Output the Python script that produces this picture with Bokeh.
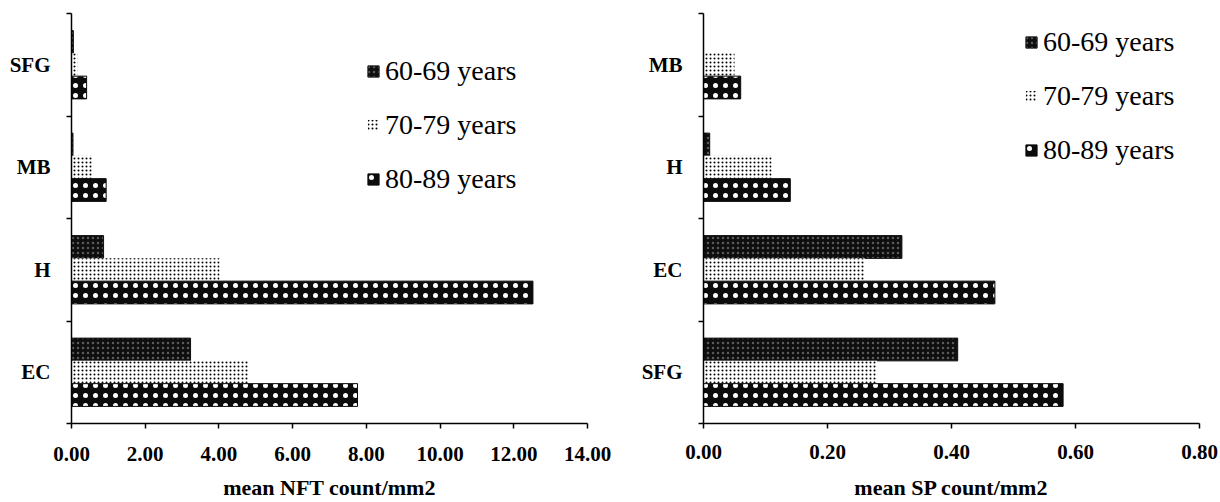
from bokeh.plotting import figure
from bokeh.models import (Range1d, FixedTicker, Legend, LegendItem, ColumnDataSource,
                          NumeralTickFormatter)
from bokeh.layouts import row
from bokeh.transform import dodge
from bokeh.embed import file_html
from bokeh.resources import INLINE

# ---- data ----
series = ["60-69 years", "70-79 years", "80-89 years"]

nft_regions = ["SFG", "MB", "H", "EC"]          # top to bottom
nft_60 = [0.05, 0.04, 0.87, 3.23]
nft_70 = [0.16, 0.56, 4.02, 4.81]
nft_80 = [0.41, 0.94, 12.52, 7.76]
nft_ticks = [0, 2, 4, 6, 8, 10, 12, 14]

sp_regions = ["MB", "H", "EC", "SFG"]           # top to bottom
sp_60 = [0.0, 0.01, 0.32, 0.41]
sp_70 = [0.05, 0.11, 0.26, 0.28]
sp_80 = [0.06, 0.14, 0.47, 0.58]
sp_ticks = [0, 0.2, 0.4, 0.6, 0.8]

FONT = "Liberation Serif"

styles = [
    dict(fill_color="#0e0e0e", line_color="#0e0e0e", hatch_pattern="dot",
         hatch_color="#5a5a5a", hatch_scale=5, hatch_weight=1),
    dict(fill_color="white", line_color=None, hatch_pattern="dot",
         hatch_color="#000000", hatch_scale=4, hatch_weight=3),
    dict(fill_color="#0c0c0c", line_color="#0c0c0c", hatch_pattern="dot",
         hatch_color="white", hatch_scale=10, hatch_weight=3.5),
]
offsets = [0.222, 0.0, -0.222]
bar_h = 0.222


def make(regions, vals, ticks, xlabel, width, height, bl, bt, br, bb, leg_xy,
         lab_standoff, title_standoff):
    n = len(regions)
    p = figure(width=width, height=height, output_backend="svg", toolbar_location=None,
               x_range=Range1d(ticks[0], ticks[-1]), y_range=Range1d(-0.5, n - 0.5),
               min_border_left=bl, min_border_top=bt, min_border_right=br,
               min_border_bottom=bb)
    p.outline_line_color = None
    p.grid.visible = False
    ypos = [n - 1 - i for i in range(n)]
    src = ColumnDataSource(dict(y=ypos, v0=vals[0], v1=vals[1], v2=vals[2]))
    items = []
    for k in range(3):
        r = p.hbar(y=dodge("y", offsets[k], range=p.y_range), left=0, right=f"v{k}",
                   height=bar_h, source=src, **styles[k])
        items.append(LegendItem(label=series[k], renderers=[r]))

    # y axis: labels at category centers, small ticks at category boundaries
    yax = p.yaxis[0]
    yax.ticker = FixedTicker(ticks=ypos, minor_ticks=[i - 0.5 for i in range(n + 1)])
    yax.major_label_overrides = {y: regions[i] for i, y in enumerate(ypos)}
    yax.major_tick_line_color = None
    yax.major_tick_out = 0
    yax.major_tick_in = 0
    yax.minor_tick_out = 5
    yax.minor_tick_in = 0
    yax.minor_tick_line_width = 1.5
    yax.major_label_standoff = 16
    yax.major_label_text_font = FONT
    yax.major_label_text_font_style = "bold"
    yax.major_label_text_font_size = "21px"
    yax.major_label_text_color = "black"
    yax.axis_line_width = 1.5
    yax.axis_line_color = "black"

    xax = p.xaxis[0]
    xax.ticker = FixedTicker(ticks=ticks, minor_ticks=[])
    xax.formatter = NumeralTickFormatter(format="0.00")
    xax.major_tick_out = 5
    xax.major_tick_in = 0
    xax.major_tick_line_width = 1.5
    xax.axis_line_width = 1.5
    xax.axis_line_color = "black"
    xax.major_label_standoff = lab_standoff
    xax.major_label_text_font = FONT
    xax.major_label_text_font_style = "bold"
    xax.major_label_text_font_size = "21px"
    xax.major_label_text_color = "black"
    xax.axis_label = xlabel
    xax.axis_label_standoff = title_standoff
    xax.axis_label_text_font = FONT
    xax.axis_label_text_font_style = "bold"
    xax.axis_label_text_font_size = "22px"
    xax.axis_label_text_color = "black"

    legend = Legend(items=items, location=leg_xy, border_line_color=None,
                    background_fill_alpha=0, padding=0, margin=0, spacing=20,
                    glyph_width=14, glyph_height=14, label_standoff=5, label_height=34,
                    label_text_font=FONT, label_text_font_size="28px",
                    label_text_color="black")
    p.add_layout(legend)
    return p


left = make(nft_regions, [nft_60, nft_70, nft_80], nft_ticks, "mean NFT count/mm2",
            620, 502, 71, 13, 33, 77, (295, 227), 18, 11)
right = make(sp_regions, [sp_60, sp_70, sp_80], sp_ticks, "mean SP count/mm2",
             600, 502, 83, 13, 21, 77, (321, 256), 16, 13)

layout = row(left, right)
open("out.html", "w").write(file_html(layout, INLINE))
